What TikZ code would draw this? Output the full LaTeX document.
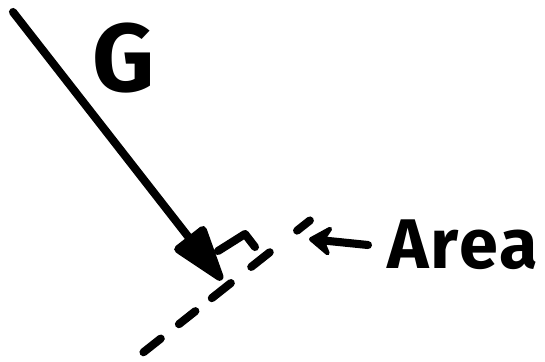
\documentclass[tikz,border=0pt]{standalone}
\usepackage{fontspec}
\newfontfamily\sketchfont{Fira Sans}
\newfontfamily\sketchwide{Fira Sans}[LetterSpace=3]
\usetikzlibrary{arrows.meta,calc}

\begin{document}
\begin{tikzpicture}[x=0.02cm, y=-0.02cm, line cap=round, line join=round,
    marker/.style={line width=4.6pt},
    handtext/.style={inner sep=0pt, font=\sketchfont\bfseries}]
    \useasboundingbox (0,0) rectangle (545,362);

    % Surface points
    \coordinate (surfA) at (140,355);
    \coordinate (surfB) at (313,218);

    % Dashed surface
    \foreach \a/\b in {0.02/0.12, 0.225/0.32, 0.415/0.525, 0.643/0.75, 0.908/0.982}
        \draw[marker] ($(surfA)!\a!(surfB)$) -- ($(surfA)!\b!(surfB)$);

    % Field arrow
    \coordinate (gstart) at (13,12);
    \coordinate (gtip) at (222,280);
    \draw[marker, -{Triangle[length=1.3cm, width=0.8cm, round]}] (gstart) -- (gtip);
    \node[handtext, anchor=base west, font=\sketchfont\bfseries\fontsize{55}{60}\selectfont]
        (glabel) at (92,91) {G};

    % Right angle mark
    \draw[marker] (218,251) -- (245,234) -- (255,247);

    % Area pointer
    \node[handtext, anchor=base west, font=\sketchwide\bfseries\fontsize{40}{44}\selectfont]
        (arealabel) at (387,268) {Area};
    \coordinate (areatail) at (368,245);
    \coordinate (areatip) at (309,239);
    \draw[marker, -{Stealth[length=0.55cm, width=0.75cm, inset=0.2cm, round]}] (areatail) -- (areatip);
\end{tikzpicture}
\end{document}
